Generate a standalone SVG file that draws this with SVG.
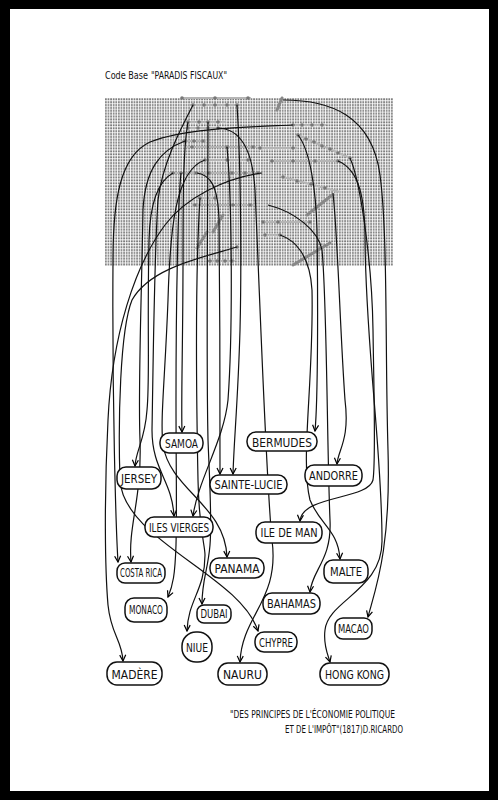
<svg xmlns="http://www.w3.org/2000/svg" width="498" height="800" viewBox="0 0 498 800">
<defs>
<pattern id="code" x="105" y="98" width="2.6" height="2.9" patternUnits="userSpaceOnUse">
<rect x="0" y="0.3" width="1.8" height="1.9" fill="#7a7a7a"/>
</pattern>
<marker id="arr" viewBox="0 0 8 8" refX="7" refY="4" markerWidth="8" markerHeight="8" markerUnits="userSpaceOnUse" orient="auto">
<path d="M1,1 L7,4 L1,7" fill="none" stroke="#000" stroke-width="1.2"/>
</marker>
</defs>
<style>
.node rect{fill:#fff;stroke:#111;stroke-width:1.5}
.node text{font-family:"Liberation Sans Narrow","DejaVu Sans Condensed","Liberation Sans",sans-serif;font-size:12px;fill:#111;text-anchor:middle}
.conn path{fill:none;stroke:#111;stroke-width:1.2;marker-end:url(#arr)}
.grow{stroke:#b5b5b5;stroke-width:2.2;fill:none;stroke-linecap:round}
.gdot{fill:#777}
.gseg{stroke:#888;stroke-width:3;stroke-linecap:round}
.note{font-family:"Liberation Sans Narrow","DejaVu Sans Condensed","Liberation Sans",sans-serif;fill:#111}
</style>
<rect x="0" y="0" width="498" height="800" fill="#000"/>
<rect x="10" y="9" width="479" height="782" fill="#fff"/>
<text class="note" x="105" y="79" font-size="10" textLength="43" lengthAdjust="spacingAndGlyphs">Code Base</text>
<text class="note" x="151" y="79" font-size="11" textLength="76" lengthAdjust="spacingAndGlyphs">"PARADIS FISCAUX"</text>
<rect id="code-block" x="105" y="98" width="288" height="168" fill="url(#code)"/>
<g id="highlights">
<path class="grow" d="M182,98 H250 M190,105 H240 M185,122 H225 M186,128 H222 M182,141 H205 M188,147 H255 M200,160 H250 M170,173 H262 M290,125 H325 M298,135 L350,158 M258,148 H296 M270,161 H340 M283,177 L340,192 M197,198 H218 M193,205 H255 M263,222 H310 M265,235 H282 M208,261 H234"/>
<path class="gseg" d="M197,248 L207,232 M213,232 L223,215 M307,215 L332,195 M293,265 L330,243 M282,98 L277,110"/>
<g class="gdot">
<circle cx="182" cy="98" r="1.8"/><circle cx="215" cy="98" r="1.8"/><circle cx="248" cy="98" r="1.8"/>
<circle cx="193" cy="105" r="1.8"/><circle cx="204" cy="105" r="1.8"/><circle cx="215" cy="105" r="1.8"/><circle cx="227" cy="105" r="1.8"/><circle cx="237" cy="105" r="1.8"/>
<circle cx="188" cy="122" r="1.8"/><circle cx="199" cy="122" r="1.8"/><circle cx="208" cy="122" r="1.8"/><circle cx="218" cy="122" r="1.8"/>
<circle cx="188" cy="128" r="1.8"/><circle cx="198" cy="128" r="1.8"/><circle cx="208" cy="128" r="1.8"/><circle cx="218" cy="128" r="1.8"/>
<circle cx="185" cy="141" r="1.8"/><circle cx="194" cy="141" r="1.8"/><circle cx="203" cy="141" r="1.8"/>
<circle cx="192" cy="147" r="1.8"/><circle cx="227" cy="147" r="1.8"/><circle cx="253" cy="147" r="1.8"/>
<circle cx="205" cy="160" r="1.8"/><circle cx="227" cy="160" r="1.8"/><circle cx="248" cy="160" r="1.8"/>
<circle cx="173" cy="173" r="1.8"/><circle cx="181" cy="173" r="1.8"/><circle cx="196" cy="173" r="1.8"/><circle cx="209" cy="173" r="1.8"/><circle cx="232" cy="173" r="1.8"/><circle cx="245" cy="173" r="1.8"/><circle cx="258" cy="173" r="1.8"/>
<circle cx="293" cy="125" r="1.8"/><circle cx="302" cy="125" r="1.8"/><circle cx="312" cy="125" r="1.8"/><circle cx="322" cy="125" r="1.8"/>
<circle cx="298" cy="135" r="1.8"/><circle cx="306" cy="139" r="1.8"/><circle cx="314" cy="142" r="1.8"/><circle cx="322" cy="146" r="1.8"/><circle cx="330" cy="149" r="1.8"/><circle cx="338" cy="153" r="1.8"/><circle cx="350" cy="158" r="1.8"/>
<circle cx="260" cy="148" r="1.8"/><circle cx="293" cy="148" r="1.8"/>
<circle cx="272" cy="161" r="1.8"/><circle cx="293" cy="161" r="1.8"/><circle cx="315" cy="161" r="1.8"/><circle cx="338" cy="161" r="1.8"/>
<circle cx="283" cy="177" r="1.8"/><circle cx="297" cy="181" r="1.8"/><circle cx="311" cy="184" r="1.8"/><circle cx="325" cy="188" r="1.8"/>
<circle cx="200" cy="198" r="1.8"/><circle cx="215" cy="198" r="1.8"/>
<circle cx="195" cy="205" r="1.8"/><circle cx="233" cy="205" r="1.8"/><circle cx="250" cy="205" r="1.8"/>
<circle cx="263" cy="222" r="1.8"/><circle cx="278" cy="222" r="1.8"/><circle cx="310" cy="222" r="1.8"/>
<circle cx="265" cy="235" r="1.8"/><circle cx="280" cy="235" r="1.8"/>
<circle cx="210" cy="261" r="1.8"/><circle cx="217" cy="261" r="1.8"/><circle cx="225" cy="261" r="1.8"/><circle cx="232" cy="261" r="1.8"/>
<circle cx="237" cy="247" r="1.8"/>
</g>
</g>
<g id="connectors" class="conn">
<path d="M262,173 C225,178 185,198 165,225 C135,265 112,335 108,420 C104,500 105,570 108,605 C111,635 122,640 123,661"/>
<path d="M293,125 C250,127 185,128 150,142 C120,156 113,200 113,260 C112,400 116,530 118,562"/>
<path d="M185,141 C160,150 145,170 143,210 C141,320 138,390 140,440 C142,500 128,525 131,562"/>
<path d="M173,173 C160,180 150,200 149,240 C147,330 150,380 147,410 C145,440 136,450 135,466"/>
<path d="M188,122 C183,150 183,200 183,260 C183,340 181,400 182,432"/>
<path d="M193,105 C180,130 162,165 158,200 C154,260 153,380 152,430 C152,470 172,480 174,516"/>
<path d="M227,147 C232,200 233,330 228,400 C224,440 198,480 193,516"/>
<path d="M197,173 C210,175 218,185 219,220 C220,300 220,400 220,474"/>
<path d="M237,105 C240,150 242,250 240,330 C238,400 234,440 233,474"/>
<path d="M205,160 C175,170 170,230 168,300 C165,380 160,420 163,445 C170,490 225,505 227,557"/>
<path d="M208,122 C208,200 206,350 208,440 C210,490 212,520 210,545 C208,570 202,580 202,604"/>
<path d="M200,198 C196,260 196,380 198,480 C199,530 205,545 205,555 C205,590 188,600 187,631"/>
<path d="M181,173 C178,200 176,300 176,400 C176,470 177,510 176,545 C175,575 173,585 168,597"/>
<path d="M237,247 C200,258 150,268 132,300 C120,330 118,420 120,480 C123,540 240,575 258,631"/>
<path d="M217,128 C235,128 252,140 255,190 C260,300 266,480 272,540 C280,600 242,615 240,662"/>
<path d="M268,205 C295,212 318,230 322,250 C327,300 327,450 330,520 C332,560 312,570 310,592"/>
<path d="M280,235 C295,240 310,255 312,290 C314,380 300,460 310,500 C320,525 338,530 340,559"/>
<path d="M283,100 C330,100 372,115 380,175 C388,235 385,350 388,450 C391,550 375,590 368,617"/>
<path d="M338,161 C360,170 365,200 365,240 C366,350 382,450 382,540 C383,590 328,600 325,630 C323,645 328,655 330,662"/>
<path d="M350,158 C360,180 372,260 373,330 C374,400 376,460 373,480 C368,500 302,495 300,521"/>
<path d="M333,193 C338,240 340,330 345,400 C350,440 338,450 337,464"/>
<path d="M298,135 C310,150 316,190 317,230 C318,300 318,400 315,431"/>
</g>
<g id="samoa" class="node"><rect x="160" y="433" width="43" height="20" rx="9"/><text x="181.5" y="447.5" textLength="33" lengthAdjust="spacingAndGlyphs">SAMOA</text></g>
<g id="bermudes" class="node"><rect x="247" y="432" width="70" height="19" rx="9"/><text x="282" y="446.5" font-size="13" textLength="60" lengthAdjust="spacingAndGlyphs">BERMUDES</text></g>
<g id="jersey" class="node"><rect x="117" y="467" width="44" height="22" rx="9"/><text x="139" y="482.5" textLength="36" lengthAdjust="spacingAndGlyphs">JERSEY</text></g>
<g id="sainte-lucie" class="node"><rect x="210" y="475" width="77" height="19" rx="9"/><text x="248.5" y="489" font-size="13" textLength="68" lengthAdjust="spacingAndGlyphs">SAINTE-LUCIE</text></g>
<g id="andorre" class="node"><rect x="305" y="465" width="57" height="21" rx="9"/><text x="333.5" y="480" textLength="49" lengthAdjust="spacingAndGlyphs">ANDORRE</text></g>
<g id="iles-vierges" class="node"><rect x="145" y="517" width="68" height="20" rx="9"/><text x="179" y="531.5" textLength="60" lengthAdjust="spacingAndGlyphs">ILES VIERGES</text></g>
<g id="ile-de-man" class="node"><rect x="256" y="522" width="66" height="21" rx="9"/><text x="289" y="537" textLength="57" lengthAdjust="spacingAndGlyphs">ILE DE MAN</text></g>
<g id="costa-rica" class="node"><rect x="117" y="563" width="48" height="20" rx="8"/><text x="141" y="577" font-size="10.5" textLength="42" lengthAdjust="spacingAndGlyphs">COSTA RICA</text></g>
<g id="panama" class="node"><rect x="210" y="558" width="54" height="20" rx="9"/><text x="237" y="572.5" textLength="45" lengthAdjust="spacingAndGlyphs">PANAMA</text></g>
<g id="malte" class="node"><rect x="324" y="560" width="44" height="23" rx="9"/><text x="346" y="576" textLength="32" lengthAdjust="spacingAndGlyphs">MALTE</text></g>
<g id="monaco" class="node"><rect x="125" y="598" width="42" height="24" rx="9"/><text x="146" y="614" font-size="11" textLength="34" lengthAdjust="spacingAndGlyphs">MONACO</text></g>
<g id="dubai" class="node"><rect x="197" y="605" width="34" height="18" rx="7"/><text x="214" y="618" font-size="10.5" textLength="27" lengthAdjust="spacingAndGlyphs">DUBAI</text></g>
<g id="bahamas" class="node"><rect x="263" y="593" width="57" height="21" rx="9"/><text x="291.5" y="608" textLength="49" lengthAdjust="spacingAndGlyphs">BAHAMAS</text></g>
<g id="niue" class="node"><rect x="182" y="632" width="30" height="30" rx="14"/><text x="197" y="651.5" font-size="11" textLength="22" lengthAdjust="spacingAndGlyphs">NIUE</text></g>
<g id="chypre" class="node"><rect x="255" y="632" width="42" height="20" rx="9"/><text x="276" y="646.5" font-size="11" textLength="34" lengthAdjust="spacingAndGlyphs">CHYPRE</text></g>
<g id="macao" class="node"><rect x="335" y="618" width="37" height="21" rx="8"/><text x="353.5" y="633" font-size="11" textLength="31" lengthAdjust="spacingAndGlyphs">MACAO</text></g>
<g id="madere" class="node"><rect x="107" y="662" width="55" height="23" rx="10"/><text x="134.5" y="678.5" font-size="13" textLength="46" lengthAdjust="spacingAndGlyphs">MADÈRE</text></g>
<g id="nauru" class="node"><rect x="218" y="663" width="49" height="22" rx="10"/><text x="242.5" y="679" font-size="13" textLength="39" lengthAdjust="spacingAndGlyphs">NAURU</text></g>
<g id="hong-kong" class="node"><rect x="320" y="663" width="69" height="22" rx="10"/><text x="354.5" y="679" font-size="13" textLength="59" lengthAdjust="spacingAndGlyphs">HONG KONG</text></g>
<text class="note" x="230" y="718" font-size="10.5" textLength="165" lengthAdjust="spacingAndGlyphs">"DES PRINCIPES DE L'ÉCONOMIE POLITIQUE</text>
<text class="note" x="285" y="733" font-size="10.5" textLength="118" lengthAdjust="spacingAndGlyphs">ET DE L'IMPÔT"(1817)D.RICARDO</text>
</svg>
